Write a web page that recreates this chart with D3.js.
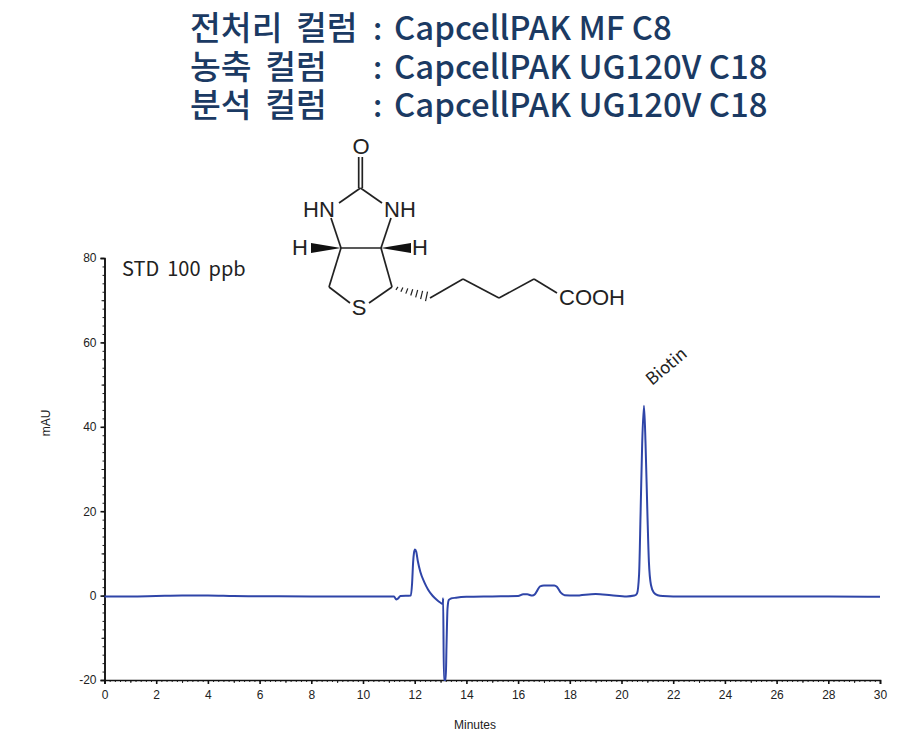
<!DOCTYPE html>
<html>
<head>
<meta charset="utf-8">
<script src="https://cdn.jsdelivr.net/npm/d3@7"></script>
<style>
  html, body { margin: 0; padding: 0; background: #fff; }
  svg { display: block; }
</style>
</head>
<body>
<div id="chart"></div>
<script>
// chromatogram values
const times = [0, 1, 2, 3, 4, 5, 6, 8, 10, 11.2, 11.28, 11.35, 11.45, 11.85, 11.9, 11.94, 11.97, 12.01, 12.06, 12.12, 12.22, 12.37, 12.52, 12.7, 12.85, 13.0, 13.09, 13.1, 13.13, 13.2, 13.23, 13.27, 13.32, 13.4, 13.6, 14, 15, 16, 16.2, 16.35, 16.55, 16.65, 16.75, 16.85, 17.0, 17.4, 17.5, 17.65, 17.8, 18.2, 19, 19.6, 20.2, 20.5, 20.6, 20.68, 20.74, 20.8, 20.87, 20.93, 21.0, 21.06, 21.14, 21.25, 21.4, 21.6, 22, 24, 26, 28, 30];
const mau = [-0.2, -0.2, -0.1, 0, 0, -0.1, -0.15, -0.2, -0.2, -0.2, -0.9, -0.7, -0.1, 0, 3, 8, 10, 10.9, 10.4, 8.2, 5.6, 3.2, 1.4, -0.1, -1, -1.7, -2, -0.6, -20, -20, -12, -3, -1, -0.7, -0.5, -0.3, -0.2, -0.1, 0.3, 0.3, 0, 0.3, 1.3, 2.2, 2.4, 2.4, 2.1, 0.7, 0.1, 0, 0.4, 0.1, -0.2, 0, 0.5, 5, 20, 36, 45, 36, 20, 8, 2.5, 0.7, 0.1, -0.1, -0.2, -0.2, -0.2, -0.2, -0.3];

const xMajor = d3.range(0, 31, 2);
const xMid = d3.range(1, 30, 2);
const xMinor = d3.range(0, 30.01, 0.2);
const yMajor = [-20, 0, 20, 40, 60, 80];
const yMid = [-10, 10, 30, 50, 70];
const yMinor = d3.range(-20, 80.01, 2);

const titleKo = ["전처리 컬럼", "농축 컬럼", "분석 컬럼"];
const titleColumn = ["CapcellPAK MF C8", "CapcellPAK UG120V C18", "CapcellPAK UG120V C18"];

const svg = d3.select("#chart").append("svg").attr("width", 923).attr("height", 749);

// plot area in page pixels
const margin = { top: 258, left: 104.5, right: 880, bottom: 680 };
const x = d3.scaleLinear().domain([0, 30]).range([margin.left, margin.right]);
const y = d3.scaleLinear().domain([-20, 80]).range([margin.bottom, margin.top]);

// 1. Title block
const titleFont = "'Noto Sans CJK KR', 'Noto Sans', sans-serif";
const title = svg.append("g").attr("fill", "#1b3a63").attr("font-family", titleFont).attr("font-weight", 500);
titleKo.forEach((t, i) => {
    const base = 40 + i * 38.5;
    title.append("text").attr("x", 190).attr("y", base).attr("font-size", 33.5).attr("word-spacing", 6).text(t);
    title.append("text").attr("x", 373).attr("y", base).attr("font-size", 31).text(":");
    title.append("text").attr("x", 394).attr("y", base).attr("font-size", 32.9).text(titleColumn[i]);
});

// 2. Axes
function drawAxis(axis, transform, size) {
    svg.append("g").attr("transform", transform)
        .call(axis.tickSize(size).tickFormat(""))
        .call(g => g.selectAll("path,line").attr("stroke", "#222"));
}
drawAxis(d3.axisBottom(x).tickValues(xMinor), `translate(0,${margin.bottom})`, 2);
drawAxis(d3.axisBottom(x).tickValues(xMid), `translate(0,${margin.bottom})`, 3);
drawAxis(d3.axisLeft(y).tickValues(yMinor), `translate(${margin.left},0)`, 2);
drawAxis(d3.axisLeft(y).tickValues(yMid), `translate(${margin.left},0)`, 3);

const labelStyle = g => {
    g.selectAll("path,line").attr("stroke", "#111").attr("stroke-width", 1.6);
    g.selectAll("text").attr("font-family", "'Liberation Sans', Arial, sans-serif").attr("font-size", 12).attr("fill", "#222");
};
svg.append("g").attr("transform", `translate(0,${margin.bottom})`)
    .call(d3.axisBottom(x).tickValues(xMajor).tickSize(4).tickPadding(6).tickFormat(d => String(d)))
    .call(labelStyle);
svg.append("g").attr("transform", `translate(${margin.left},0)`)
    .call(d3.axisLeft(y).tickValues(yMajor).tickSize(4).tickPadding(4).tickFormat(d => String(d)))
    .call(labelStyle);

svg.append("text").attr("x", 475).attr("y", 729).attr("text-anchor", "middle")
    .attr("font-family", "'Liberation Sans', sans-serif").attr("font-size", 12).attr("fill", "#222").text("Minutes");
svg.append("text").attr("transform", "translate(50,423) rotate(-90)").attr("text-anchor", "middle")
    .attr("font-family", "'Liberation Sans', sans-serif").attr("font-size", 12).attr("fill", "#222").text("mAU");

// 3. Trace
const line = d3.line().x(d => x(d[0])).y(d => y(d[1])).curve(d3.curveMonotoneX);
svg.append("path")
    .datum(times.map((t, i) => [t, mau[i]]))
    .attr("d", line)
    .attr("fill", "none")
    .attr("stroke", "#2f45a8")
    .attr("stroke-width", 2)
    .attr("stroke-linejoin", "round");

// 4. Annotations
const noteFont = "'Noto Sans CJK KR', sans-serif";
svg.append("text").attr("x", 122).attr("y", 276).attr("font-family", noteFont).attr("font-size", 20).attr("word-spacing", 3.5).attr("fill", "#222").text("STD 100 ppb");
svg.append("text").attr("transform", "translate(652,386) rotate(-40)")
    .attr("font-family", noteFont).attr("font-size", 17).attr("fill", "#222").text("Biotin");

// 5. Biotin structure (illustration, page pixels)
const mol = svg.append("g").attr("stroke", "#222").attr("stroke-width", 1.7).attr("fill", "none");
const bonds = [
    [[358.7, 157], [358.7, 188]], [[362.3, 157], [362.3, 188]],
    [[360.5, 188], [339, 203]], [[360.5, 188], [382, 203]],
    [[331, 218], [341, 248]], [[391, 218], [381, 248]],
    [[341, 248], [381, 248]],
    [[341, 248], [329, 287]], [[329, 287], [350, 303]],
    [[369, 303], [392, 287]], [[392, 287], [381, 248]],
    [[430, 298], [463, 279]], [[463, 279], [499, 298]], [[499, 298], [534, 279]], [[534, 279], [557, 293]]
];
bonds.forEach(b => mol.append("path").attr("d", d3.line()(b)));
mol.append("path").attr("d", "M341,248L311,243L311,253Z").attr("fill", "#111").attr("stroke", "none");
mol.append("path").attr("d", "M381,248L411,243L411,253Z").attr("fill", "#111").attr("stroke", "none");
d3.range(1, 8).forEach(i => {
    const t = i / 7.5;
    const px = 392 + t * 37, py = 287 + t * 10, h = 1 + t * 4;
    mol.append("line").attr("x1", px + 1).attr("x2", px - 1).attr("y1", py - h).attr("y2", py + h).attr("stroke-width", 1.2);
});
const atoms = [
    ["O", 361, 154, "middle"], ["HN", 319, 217, "middle"], ["NH", 400, 217, "middle"],
    ["H", 300, 255, "middle"], ["H", 420, 255, "middle"], ["S", 359, 315, "middle"], ["COOH", 559, 305, "start"]
];
atoms.forEach(a => svg.append("text").attr("x", a[1]).attr("y", a[2]).attr("text-anchor", a[3])
    .attr("font-family", "'Liberation Sans', sans-serif").attr("font-size", 22).attr("fill", "#222").text(a[0]));
</script>
</body>
</html>
